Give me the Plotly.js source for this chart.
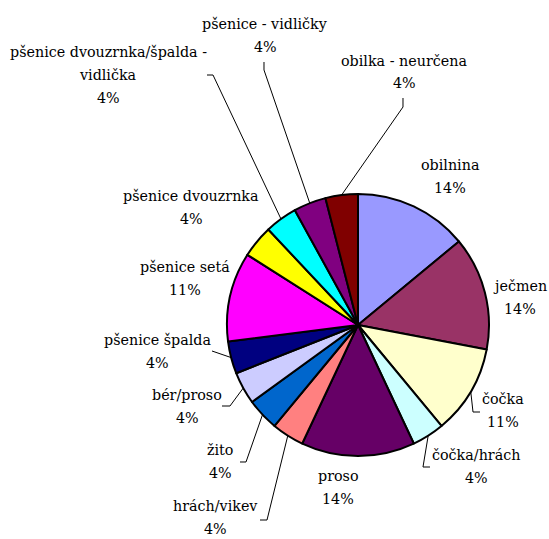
<!DOCTYPE html>
<html>
<head>
<meta charset="utf-8">
<script src="https://cdn.plot.ly/plotly-3.0.1.min.js"></script>
<style>
  html, body { margin: 0; padding: 0; background: #fff; }
  #chart { width: 549px; height: 539px; }
</style>
</head>
<body>
<div id="chart"></div>
<script>
// Categories (clockwise from 12 o'clock) and their shares in percent
const categories = [
  'obilnina', 'ječmen', 'čočka', 'čočka/hrách', 'proso', 'hrách/vikev', 'žito',
  'bér/proso', 'pšenice špalda', 'pšenice setá', 'pšenice dvouzrnka',
  'pšenice dvouzrnka/špalda - vidlička', 'pšenice - vidličky', 'obilka - neurčena'
];
const shares = [14, 14, 11, 4, 14, 4, 4, 4, 4, 11, 4, 4, 4, 4];
const sliceColors = [
  '#9999FF', '#993366', '#FFFFCC', '#CCFFFF', '#660066', '#FF8080', '#0066CC',
  '#CCCCFF', '#000080', '#FF00FF', '#FFFF00', '#00FFFF', '#800080', '#800000'
];

// Figure geometry (pixels)
const W = 549, H = 539;
const CX = 358, CY = 325, R = 131;
const SERIF = 'DejaVu Serif';
const FONT_SIZE = 14.3;
const LINE_GAP = 23;

// Label block centres, in pixels, one per slice
const labelPos = [
  [450, 177], [520, 297], [503, 410], [476, 466], [338, 487], [215, 517], [220, 461],
  [187, 406], [157, 351], [185, 278], [191, 208], [108, 75], [265, 35], [404, 72]
];
// Leader line points next to each label (empty = no leader); the line then runs to the slice edge
const leaderPts = [
  [], [], [[480, 412], [473, 412]], [[430, 467], [423, 467]], [],
  [[260, 520], [267, 520]], [[240, 462], [246, 462]], [[222, 406], [230, 406]],
  [[212, 351]], [], [], [[207, 75], [213, 75]], [[264, 62], [264, 70]], [[403, 98], [403, 107]]
];

const px = x => x / W;
const py = y => 1 - y / H;

// Greedy word wrap for long category names
function wrap(text, maxLen) {
  const words = text.split(' ');
  const lines = [];
  let cur = '';
  words.forEach(w => {
    const next = cur ? cur + ' ' + w : w;
    if (next.length > maxLen && cur) { lines.push(cur); cur = w; }
    else cur = next;
  });
  if (cur) lines.push(cur);
  return lines;
}

const total = shares.reduce((a, b) => a + b, 0);
const annotations = [];
const shapes = [];
let cum = 0;
categories.forEach((name, i) => {
  const pct = Math.round(shares[i] / total * 100);
  // one annotation per text line, for a wider line spacing
  const lines = wrap(name, 26).concat([pct + '%']);
  lines.forEach((ln, k) => {
    annotations.push({
      xref: 'paper', yref: 'paper',
      x: px(labelPos[i][0]),
      y: py(labelPos[i][1] + (k - (lines.length - 1) / 2) * LINE_GAP),
      xanchor: 'center', yanchor: 'middle', align: 'center',
      showarrow: false,
      text: ln,
      font: { family: SERIF, size: FONT_SIZE, color: '#000' }
    });
  });
  // mid angle of the slice, clockwise from 12 o'clock
  const mid = (cum + shares[i] / 2) / total * 2 * Math.PI;
  cum += shares[i];
  if (leaderPts[i].length) {
    const pts = leaderPts[i].slice();
    pts.push([CX + R * Math.sin(mid), CY - R * Math.cos(mid)]);
    const d = pts.map((p, k) => (k ? 'L ' : 'M ') + px(p[0]).toFixed(5) + ' ' + py(p[1]).toFixed(5)).join(' ');
    shapes.push({ type: 'path', xref: 'paper', yref: 'paper', path: d, line: { color: '#000', width: 1 } });
  }
});

const trace = {
  type: 'pie',
  labels: categories,
  values: shares,
  sort: false,
  direction: 'clockwise',
  rotation: 0,
  textinfo: 'none',
  textposition: 'none',
  hoverinfo: 'none',
  marker: { colors: sliceColors, line: { color: '#000', width: 2 } },
  domain: { x: [px(CX - R), px(CX + R)], y: [py(CY + R), py(CY - R)] }
};

const layout = {
  width: W, height: H,
  margin: { l: 0, r: 0, t: 0, b: 0 },
  font: { family: SERIF, size: FONT_SIZE, color: '#000' },
  showlegend: false,
  paper_bgcolor: '#fff',
  annotations: annotations,
  shapes: shapes
};

Plotly.newPlot('chart', [trace], layout, { staticPlot: true, displayModeBar: false });
</script>
</body>
</html>
